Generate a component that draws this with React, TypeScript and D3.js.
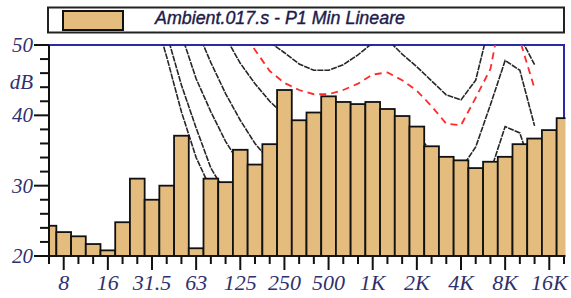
import React, { useEffect, useRef } from 'react';
import * as d3 from 'd3';

// third-octave bands, 6.3 Hz .. 20 kHz
const bands = ['6.3', '8', '10', '12.5', '16', '20', '25', '31.5', '40', '50', '63', '80', '100', '125', '160', '200', '250', '315', '400', '500', '630', '800', '1K', '1.25K', '1.6K', '2K', '2.5K', '3.15K', '4K', '5K', '6.3K', '8K', '10K', '12.5K', '16K', '20K'];
const tickLabels = ['8', '16', '31.5', '63', '125', '250', '500', '1K', '2K', '4K', '8K', '16K'];
const yMajor = [20, 30, 40, 50];

// P1 Min Lineare levels (dB)
const levels = [24.3, 23.4, 22.8, 21.7, 20.8, 24.8, 31.0, 28.0, 30.0, 37.1, 21.1, 31.0, 30.5, 35.1, 33.0, 35.9, 43.6, 39.3, 40.4, 42.7, 41.9, 41.6, 41.9, 40.9, 39.9, 38.4, 35.6, 34.1, 33.6, 32.5, 33.4, 34.1, 35.9, 36.7, 37.9, 39.6];

// reference contours, values per band starting at the given band index
const curveA = [55.5, 48.3, 40.5, 34.0, 29.5, 28.0, 26.5];
const curveAStart = 7;
const curveB = [59, 51.6, 44.3, 38.2, 32.5, 29.0, 27.5];
const curveBStart = 7;
const curveC = [58, 51.5, 45.2, 40.5, 36.3, 33.0, 31.0, 30.0, 29.0];
const curveCStart = 8;
const curveD = [52.4, 47.5, 43.1, 39.3, 36.0, 33.5, 32, 31, 30.3, 29.8, 29.8, 30, 30.3, 30.5, 30, 29, 27.5, 26, 26, 28, 32, 38.4, 37.5, 31];
const curveDStart = 10;
const curveE = [55, 51.1, 47.4, 44.5, 42, 40, 37.8, 37.5, 37, 37.3, 37.8, 38.5, 38.6, 38, 37.2, 34.9, 33.0, 32.4, 35.5, 41.5, 47.8, 46.4, 38.5];
const curveEStart = 11;
const curveRed = [52.4, 49.3, 46.3, 44.6, 43.6, 43.0, 43.0, 43.6, 44.5, 45.8, 46.1, 45.0, 43.5, 41.3, 38.8, 38.6, 42.5, 46.6, 57.3, 50.7, 43.8];
const curveRedStart = 13;
const curveG = [52.5, 50.4, 48.9, 47.3, 46.4, 46.4, 47.2, 48.6, 50.3, 50.8, 48.7, 46.9, 44.9, 42.9, 42.2, 45.0, 53.5, 60, 51.2, 47.2];
const curveGStart = 14;

const legendLabel = 'Ambient.017.s - P1 Min Lineare';

function SpectrumChart({ width = 571, height = 298 }) {
    const ref = useRef<SVGSVGElement>(null);

    useEffect(() => {
        const svg = d3.select(ref.current);
        svg.selectAll('*').remove();

        const x = d3.scaleLinear().domain([0, bands.length - 1]).range([49, 564]);
        const y = d3.scaleLinear().domain([20, 50]).range([256, 45]);
        const bw = x(1) - x(0);
        const left = x(0), right = x(bands.length - 1), top = y(50), bottom = y(20);

        const tan = '#e3bc7e';
        const labelColor = '#30306e';

        svg.append('rect').attr('width', width).attr('height', height).attr('fill', '#fff');

        const defs = svg.append('defs');
        defs.append('clipPath').attr('id', 'plotClip').append('rect')
            .attr('x', left).attr('y', top).attr('width', right - left).attr('height', bottom - top);
        defs.append('clipPath').attr('id', 'barClip').append('rect')
            .attr('x', left).attr('y', 0).attr('width', right - left + 1.5).attr('height', bottom + 2);

        // blue frame (top + right)
        svg.append('path')
            .attr('d', `M${left},${top}H${right}V${bottom}`)
            .attr('fill', 'none')
            .attr('stroke', '#2a2aa6')
            .attr('stroke-width', 2);

        // contours
        const line = d3.line<[number, number]>().x(d => x(d[0])).y(d => y(d[1]));
        const pts = (start: number, vals: number[]) => vals.map((v, i) => [start + i, v] as [number, number]);
        const curves = svg.append('g').attr('clip-path', 'url(#plotClip)');
        const black = [
            pts(curveAStart, curveA), pts(curveBStart, curveB), pts(curveCStart, curveC),
            pts(curveDStart, curveD), pts(curveEStart, curveE), pts(curveGStart, curveG),
        ];
        black.forEach(c => {
            curves.append('path').attr('d', line(c))
                .attr('fill', 'none')
                .attr('stroke', '#262626')
                .attr('stroke-width', 1.6)
                .attr('stroke-dasharray', '6,1');
        });
        curves.append('path').attr('d', line(pts(curveRedStart, curveRed)))
            .attr('fill', 'none')
            .attr('stroke', '#ff2a2a')
            .attr('stroke-width', 1.8)
            .attr('stroke-dasharray', '7,5');

        // bars
        svg.append('g').attr('clip-path', 'url(#barClip)')
            .selectAll('rect')
            .data(levels)
            .enter()
            .append('rect')
            .attr('x', (d, i) => x(i) - bw / 2)
            .attr('y', d => y(d))
            .attr('width', bw)
            .attr('height', d => bottom - y(d))
            .attr('fill', tan)
            .attr('stroke', '#111')
            .attr('stroke-width', 1.8);

        // axes
        svg.append('line').attr('x1', left).attr('x2', right + 1).attr('y1', bottom).attr('y2', bottom)
            .attr('stroke', '#111').attr('stroke-width', 1.5);
        svg.append('line').attr('x1', left).attr('x2', left).attr('y1', top).attr('y2', bottom + 1)
            .attr('stroke', '#111').attr('stroke-width', 2);

        svg.append('g').selectAll('line')
            .data(d3.range(20, 51, 2))
            .enter()
            .append('line')
            .attr('x1', d => left - (d % 10 === 0 ? 15 : 9))
            .attr('x2', left)
            .attr('y1', d => y(d))
            .attr('y2', d => y(d))
            .attr('stroke', '#111')
            .attr('stroke-width', 2);

        svg.append('g').selectAll('text')
            .data(yMajor)
            .enter()
            .append('text')
            .attr('x', 33)
            .attr('y', d => y(d) + 7)
            .attr('text-anchor', 'end')
            .style('font-family', '"Liberation Serif", serif')
            .style('font-style', 'italic')
            .style('font-size', '21px')
            .attr('fill', labelColor)
            .text(d => d);

        svg.append('text')
            .attr('x', 33).attr('y', 89)
            .attr('text-anchor', 'end')
            .style('font-family', '"Liberation Serif", serif')
            .style('font-style', 'italic')
            .style('font-size', '21px')
            .attr('fill', labelColor)
            .text('dB');

        const labelled = new Set(tickLabels.map(t => bands.indexOf(t)));
        svg.append('g').selectAll('line')
            .data(bands.map((b, i) => i))
            .enter()
            .append('line')
            .attr('x1', d => x(d))
            .attr('x2', d => x(d))
            .attr('y1', bottom)
            .attr('y2', d => bottom + (labelled.has(d) ? 14 : 8))
            .attr('stroke', '#111')
            .attr('stroke-width', 2);

        svg.append('g').selectAll('text')
            .data(tickLabels)
            .enter()
            .append('text')
            .attr('x', d => x(bands.indexOf(d)))
            .attr('y', 290)
            .attr('text-anchor', 'middle')
            .style('font-family', '"Liberation Serif", serif')
            .style('font-style', 'italic')
            .style('font-size', '22px')
            .attr('fill', labelColor)
            .text(d => d);

        // legend
        const legend = svg.append('g');
        legend.append('rect')
            .attr('x', 48).attr('y', 7.5).attr('width', right - 48).attr('height', 25)
            .attr('fill', '#fff').attr('stroke', '#222').attr('stroke-width', 2);
        legend.append('rect')
            .attr('x', 63).attr('y', 11).attr('width', 60).attr('height', 19)
            .attr('fill', tan).attr('stroke', '#111').attr('stroke-width', 2);
        legend.append('text')
            .attr('x', 155).attr('y', 24)
            .attr('textLength', 250)
            .attr('lengthAdjust', 'spacingAndGlyphs')
            .style('font-family', '"Liberation Sans", Arial, sans-serif')
            .style('font-style', 'italic')
            .style('font-size', '18.5px')
            .attr('fill', '#1c1c4c')
            .attr('stroke', '#1c1c4c')
            .attr('stroke-width', 0.4)
            .text(legendLabel);
    }, [width, height]);

    return (
        <svg ref={ref} width={width} height={height} style={{ position: 'absolute', left: 0, top: 0 }}></svg>
    );
}

export default function App() {
    return <SpectrumChart />;
}
